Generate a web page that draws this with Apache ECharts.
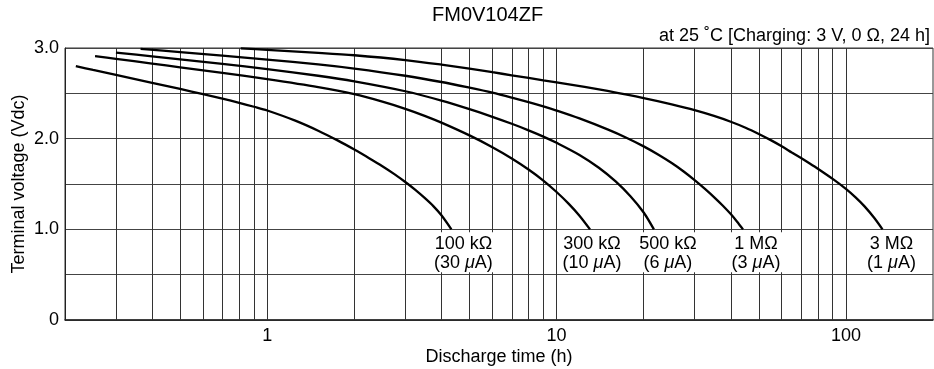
<!DOCTYPE html>
<html>
<head>
<meta charset="utf-8">
<script src="https://cdn.jsdelivr.net/npm/echarts@6/dist/echarts.min.js"></script>
<style>html,body{margin:0;padding:0;background:#fff}#c{width:934px;height:369px}</style>
</head>
<body>
<div id="c"></div>
<script>
// ---- data ----
const titleText = 'FM0V104ZF';
const subtitleText = 'at 25 ˚C [Charging: 3 V, 0 Ω, 24 h]';
const xName = 'Discharge time (h)';
const yName = 'Terminal voltage (Vdc)';
const xTickLabels = [1, 10, 100];
const yTickLabels = [0, 1, 2, 3];
const gridX = [0.3,0.4,0.5,0.6,0.7,0.8,0.9,1,2,3,4,5,6,7,8,9,10,20,30,40,50,60,70,80,90,100];
const resistances = ['100 kΩ', '300 kΩ', '500 kΩ', '1 MΩ', '3 MΩ'];
const currents = ['30', '10', '6', '3', '1'];

const t100k = [0.218,0.25,0.3,0.4,0.5,0.6,0.7,0.8,0.9,1,1.25,1.5,1.75,2,2.25,2.5,2.75,3,3.25,3.5,3.75,4,4.33];
const v100k = [2.80,2.758,2.703,2.616,2.548,2.491,2.441,2.395,2.352,2.311,2.199,2.088,1.981,1.88,1.785,1.696,1.609,1.522,1.435,1.346,1.256,1.155,1.00];

const t300k = [0.254,0.3,0.4,0.5,0.7,1,1.5,2,2.5,3,3.5,4,5,6,7,8,9,10,11,12,13.05];
const v300k = [2.91,2.88,2.828,2.787,2.726,2.656,2.568,2.49,2.408,2.329,2.252,2.177,2.036,1.906,1.782,1.66,1.538,1.412,1.284,1.151,1.00];

const t500k = [0.3,0.4,0.5,0.7,1,1.5,2,3,4,5,6,7,8,9,10,12,14,16,18,20,21.7];
const v500k = [2.95,2.908,2.875,2.824,2.768,2.694,2.632,2.523,2.42,2.326,2.241,2.164,2.092,2.023,1.954,1.82,1.679,1.528,1.365,1.186,1.00];

const t1M = [0.365,0.5,0.7,1,1.5,2,3,4,5,6,7,8,9,10,12,15,17.5,20,22.5,25,27.5,30,32.5,35,37.5,40,42,44.1];
const v1M = [2.99,2.955,2.916,2.872,2.819,2.773,2.694,2.625,2.562,2.507,2.453,2.403,2.356,2.31,2.223,2.102,2.008,1.915,1.823,1.731,1.638,1.543,1.449,1.356,1.263,1.168,1.087,1.00];

const t3M = [0.81,1,1.5,2,3,4,5,6,7,8,9,10,12.5,15,17.5,20,25,30,35,40,45,50,55,60,65,70,75,80,90,100,108,116,125,133.8];
const v3M = [2.995,2.98,2.947,2.92,2.867,2.817,2.773,2.733,2.699,2.67,2.644,2.621,2.57,2.526,2.486,2.448,2.378,2.315,2.251,2.187,2.121,2.052,1.984,1.916,1.848,1.786,1.726,1.668,1.556,1.446,1.352,1.253,1.13,1.00];

// ---- build ----
const curves = [[t100k,v100k],[t300k,v300k],[t500k,v500k],[t1M,v1M],[t3M,v3M]];
const labelOffsets = [[12,0],[2,0],[14,0],[13,0],[9,0]];
const FONT = 'Liberation Sans, Arial, Helvetica, sans-serif';
const TXT = '#000';

const lineSeries = curves.map((c, i) => ({
  type: 'line',
  data: c[0].map((t, j) => [t, c[1][j]]),
  smooth: 0.3,
  showSymbol: false,
  symbol: 'none',
  silent: true,
  z: 5,
  lineStyle: {color: '#000', width: 2.3},
  markLine: i === 0 ? {
    silent: true,
    symbol: 'none',
    z: 1,
    label: {show: false},
    lineStyle: {color: '#333', width: 1, type: 'solid'},
    data: gridX.map(v => ({xAxis: v}))
  } : undefined
}));

const labelSeries = {
  type: 'scatter',
  symbolSize: 0,
  silent: true,
  z: 8,
  itemStyle: {opacity: 1},
  data: curves.map((c, i) => ({
    value: [c[0][c[0].length-1], c[1][c[1].length-1]],
    label: {offset: labelOffsets[i]}
  })),
  label: {
    show: true,
    position: 'bottom',
    distance: 3,
    opacity: 1,
    color: TXT,
    backgroundColor: '#fff',
    padding: [2, 3, 0, 3],
    formatter: p => `{a|${resistances[p.dataIndex]}}\n{a|(${currents[p.dataIndex]} }{m|μ}{a|A)}`,
    rich: {
      a: {fontFamily: FONT, fontSize: 18, color: TXT, lineHeight: 19},
      m: {fontFamily: FONT, fontSize: 18, color: TXT, lineHeight: 19, fontStyle: 'italic'}
    }
  }
};

const chart = echarts.init(document.getElementById('c'), null, {renderer: 'canvas'});
chart.setOption({
  animation: false,
  backgroundColor: '#fff',
  title: [
    {text: titleText, left: 432, top: 5, padding: 0,
     textStyle: {fontFamily: FONT, fontSize: 20, fontWeight: 'normal', color: TXT}},
    {text: subtitleText, right: 4, top: 27, padding: 0,
     textStyle: {fontFamily: FONT, fontSize: 18, fontWeight: 'normal', color: TXT}}
  ],
  grid: {left: 65, right: 1, top: 48, bottom: 49, show: true, borderColor: '#333', borderWidth: 1,
         containLabel: false, outerBoundsMode: 'none'},
  xAxis: {
    type: 'log', logBase: 10, min: 0.2, max: 200,
    name: xName, nameLocation: 'middle', nameGap: 28, nameMoveOverlap: false,
    nameTextStyle: {fontFamily: FONT, fontSize: 18, color: TXT},
    axisLine: {show: true, lineStyle: {color: '#222', width: 1.5}},
    axisTick: {show: false},
    splitLine: {show: false},
    axisLabel: {
      fontFamily: FONT, fontSize: 18, color: TXT, margin: 7,
      formatter: v => {
        const r = Math.round(v * 1000) / 1000;
        return xTickLabels.includes(r) ? String(r) : '';
      }
    }
  },
  yAxis: {
    type: 'value', min: 0, max: 3, interval: 0.5,
    name: yName, nameLocation: 'middle', nameGap: 37, nameRotate: 90, nameMoveOverlap: false,
    nameTextStyle: {fontFamily: FONT, fontSize: 18, color: TXT},
    axisLine: {show: true, lineStyle: {color: '#222', width: 1}},
    axisTick: {show: false},
    splitLine: {show: true, lineStyle: {color: '#444', width: 1}},
    axisLabel: {
      fontFamily: FONT, fontSize: 18, color: TXT, margin: 6,
      formatter: v => yTickLabels.includes(v) ? (v === 0 ? '0' : v.toFixed(1)) : ''
    }
  },
  series: [...lineSeries, labelSeries]
});
</script>
</body>
</html>
